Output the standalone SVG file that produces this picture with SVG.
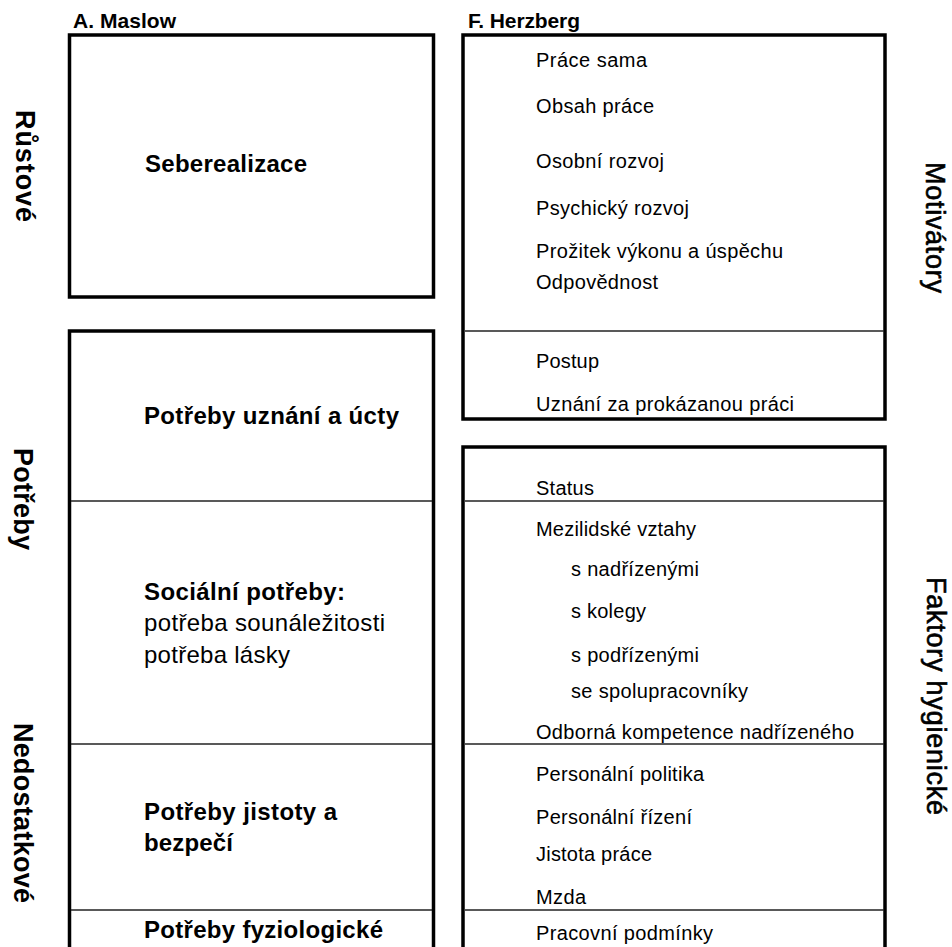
<svg xmlns="http://www.w3.org/2000/svg" width="952" height="947" viewBox="0 0 952 947">
<style>
text{font-family:"Liberation Sans",Arial,sans-serif;fill:#000}
.hdr{font-size:21px;font-weight:bold}
.box{fill:none;stroke:#000;stroke-width:3.5}
.div{stroke:#222;stroke-width:1.5}
.mb{font-size:24px;font-weight:bold}
.mr{font-size:24px}
.hz{font-size:20px}
.side{font-size:27px;font-weight:bold}
.sider{font-size:27px;stroke:#000;stroke-width:0.6}
</style>
<rect width="952" height="947" fill="#fff"/>
<g id="labels">
<text class="hdr" x="73" y="28" textLength="103" lengthAdjust="spacing">A. Maslow</text>
<text class="hdr" x="468" y="28" textLength="112" lengthAdjust="spacing">F. Herzberg</text>
<text class="side" transform="translate(16,110) rotate(90)" textLength="112" lengthAdjust="spacing">Růstové</text>
<text class="side" transform="translate(14,448) rotate(90)" textLength="102" lengthAdjust="spacing">Potřeby</text>
<text class="side" transform="translate(14,723) rotate(90)" textLength="180" lengthAdjust="spacing">Nedostatkové</text>
<text class="sider" transform="translate(926,162) rotate(90)" textLength="131" lengthAdjust="spacing">Motivátory</text>
<text class="sider" transform="translate(927,577) rotate(90)" textLength="238" lengthAdjust="spacing">Faktory hygienické</text>
</g>
<g id="maslow-growth">
<rect class="box" x="69.5" y="35" width="364" height="262"/>
<text class="mb" x="145" y="172" textLength="162" lengthAdjust="spacing">Seberealizace</text>
</g>
<g id="maslow-deficit">
<rect class="box" x="69.5" y="331" width="364" height="700"/>
<line class="div" x1="71" y1="501" x2="432" y2="501"/>
<line class="div" x1="71" y1="744" x2="432" y2="744"/>
<line class="div" x1="71" y1="910" x2="432" y2="910"/>
<text class="mb" x="144" y="424" textLength="255" lengthAdjust="spacing">Potřeby uznání a úcty</text>
<text class="mb" x="144" y="600" textLength="201" lengthAdjust="spacing">Sociální potřeby:</text>
<text class="mr" x="144" y="631" textLength="241" lengthAdjust="spacing">potřeba sounáležitosti</text>
<text class="mr" x="144" y="663" textLength="146" lengthAdjust="spacing">potřeba lásky</text>
<text class="mb" x="144" y="820" textLength="193" lengthAdjust="spacing">Potřeby jistoty a</text>
<text class="mb" x="144" y="851" textLength="89" lengthAdjust="spacing">bezpečí</text>
<text class="mb" x="144" y="938" textLength="239" lengthAdjust="spacing">Potřeby fyziologické</text>
</g>
<g id="herzberg-motivators">
<rect class="box" x="463" y="35" width="422" height="384"/>
<line class="div" x1="465" y1="331" x2="884" y2="331"/>
<text class="hz" x="536" y="67" textLength="111" lengthAdjust="spacing">Práce sama</text>
<text class="hz" x="536" y="113" textLength="118" lengthAdjust="spacing">Obsah práce</text>
<text class="hz" x="536" y="168" textLength="128" lengthAdjust="spacing">Osobní rozvoj</text>
<text class="hz" x="536" y="215" textLength="153" lengthAdjust="spacing">Psychický rozvoj</text>
<text class="hz" x="536" y="258" textLength="247" lengthAdjust="spacing">Prožitek výkonu a úspěchu</text>
<text class="hz" x="536" y="289" textLength="122" lengthAdjust="spacing">Odpovědnost</text>
<text class="hz" x="536" y="368" textLength="63" lengthAdjust="spacing">Postup</text>
<text class="hz" x="536" y="411" textLength="258" lengthAdjust="spacing">Uznání za prokázanou práci</text>
</g>
<g id="herzberg-hygiene">
<rect class="box" x="463" y="447" width="422" height="600"/>
<line class="div" x1="465" y1="501" x2="884" y2="501"/>
<line class="div" x1="465" y1="744" x2="884" y2="744"/>
<line class="div" x1="465" y1="910" x2="884" y2="910"/>
<text class="hz" x="536" y="495" textLength="58" lengthAdjust="spacing">Status</text>
<text class="hz" x="536" y="536" textLength="160" lengthAdjust="spacing">Mezilidské vztahy</text>
<text class="hz" x="571" y="576" textLength="128" lengthAdjust="spacing">s nadřízenými</text>
<text class="hz" x="571" y="618" textLength="75" lengthAdjust="spacing">s kolegy</text>
<text class="hz" x="571" y="662" textLength="128" lengthAdjust="spacing">s podřízenými</text>
<text class="hz" x="571" y="698" textLength="177" lengthAdjust="spacing">se spolupracovníky</text>
<text class="hz" x="536" y="739" textLength="318" lengthAdjust="spacing">Odborná kompetence nadřízeného</text>
<text class="hz" x="536" y="781" textLength="168" lengthAdjust="spacing">Personální politika</text>
<text class="hz" x="536" y="824" textLength="156" lengthAdjust="spacing">Personální řízení</text>
<text class="hz" x="536" y="861" textLength="116" lengthAdjust="spacing">Jistota práce</text>
<text class="hz" x="536" y="904" textLength="50" lengthAdjust="spacing">Mzda</text>
<text class="hz" x="536" y="940" textLength="177" lengthAdjust="spacing">Pracovní podmínky</text>
</g>
<g id="connectors"/>
</svg>
